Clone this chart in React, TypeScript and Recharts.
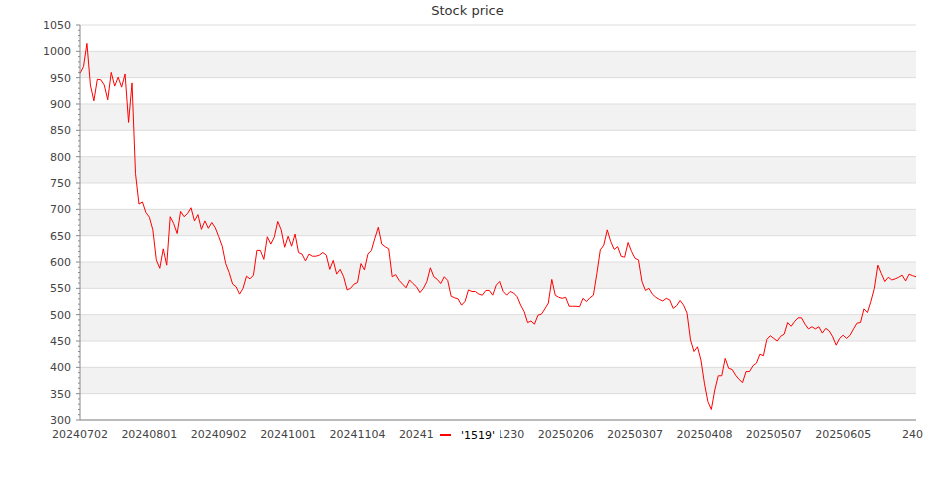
import React from "react";
import { LineChart, Line, XAxis, YAxis, CartesianGrid, Legend } from "recharts";

const chartTitle = "Stock price";
const seriesName = "'1519'";

// date labels shown every 20 trading days; the last tick has no date and shows its index
const dateLabels = [
  "20240702", "20240801", "20240902", "20241001", "20241104", "20241202",
  "20241230", "20250206", "20250307", "20250408", "20250507", "20250605",
];
const xTickIndexes = [0, 20, 40, 60, 80, 100, 120, 140, 160, 180, 200, 220, 240];

const yMajorTicks = [300, 350, 400, 450, 500, 550, 600, 650, 700, 750, 800, 850, 900, 950, 1000, 1050];

// closing prices
const prices = [
  958, 971, 1015, 936, 906, 947, 946, 936, 908, 960, 934, 951, 932, 957, 865, 940, 768, 710, 714, 694,
  685, 661, 604, 588, 625, 594, 686, 673, 654, 696, 686, 692, 703, 678, 690, 662, 678, 664, 675, 665,
  648, 630, 597, 580, 558, 553, 539, 550, 573,
  568, 575, 622, 622, 605, 648, 634, 647, 677, 661, 628, 649, 630, 653, 618, 615, 602, 615, 611, 611,
  613, 618, 613, 586, 603, 577, 586, 572, 547, 550, 558, 561, 597, 585, 615, 622, 645, 666, 634, 629,
  625, 572, 576, 565, 558, 551, 566, 559,
  553, 542, 550, 563, 589, 572, 567, 559, 572, 565, 535, 532, 530, 518, 525, 547, 544, 544, 539, 537,
  546, 546, 537, 556, 563, 544, 537, 544, 541, 534, 518, 506, 485, 488, 482, 499, 501, 511, 522, 567,
  537, 533, 531, 533, 516, 516, 516, 515,
  531, 525, 532, 537, 578, 623, 632, 661, 639, 624, 629, 611, 609, 637, 620, 607, 604, 563, 546, 550,
  539, 533, 529, 526, 531, 528, 512, 517, 527, 518, 503, 452, 430, 439, 414, 370, 335, 320, 357, 384,
  384, 417, 398, 396, 385, 377, 371, 392, 392,
  403, 408, 425, 422, 453, 460, 455, 450, 459, 463, 485, 478, 487, 494, 494, 482, 473, 477, 473, 477,
  465, 474, 469, 458, 442, 455, 461, 455, 461, 473, 484, 485, 511, 504, 525, 550, 594, 578, 563, 571,
  566, 568, 571, 575, 564, 577, 574, 572,
];

const data = prices.map((price, i) => ({ i, price }));

// minor ticks every 10 between the labelled ones
const yTicks: number[] = [];
for (let v = yMajorTicks[0]; v <= yMajorTicks[yMajorTicks.length - 1]; v += 10) yTicks.push(v);

const YTick = ({ x, y, payload }: any) => {
  const major = payload.value % 50 === 0;
  return (
    <g>
      <line x1={x + (major ? 5 : 7)} x2={x + 9} y1={y} y2={y} stroke="#888" />
      {major && (
        <text x={x} y={y} dy={4} textAnchor="end" fontSize={11} fill="#444">
          {payload.value}
        </text>
      )}
    </g>
  );
};

const LegendBox = () => (
  <div style={{ display: "flex", alignItems: "center", height: 20 }}>
    <span style={{ display: "inline-block", width: 11, height: 2, background: "#ff0000", marginLeft: 6, marginRight: 10 }} />
    <span style={{ fontSize: 11, color: "#000" }}>{seriesName}</span>
  </div>
);

export default function App() {
  return (
    <div style={{ position: "absolute", left: 0, top: 0, width: 935, height: 500, fontFamily: "DejaVu Sans", background: "#fff" }}>
      <div style={{ position: "absolute", left: 0, top: 3, width: 935, textAlign: "center", fontSize: 13, lineHeight: "16px", color: "#333" }}>
        {chartTitle}
      </div>
      <LineChart width={935} height={500} data={data} margin={{ top: 25, right: 19, bottom: 50, left: 20 }}>
        <CartesianGrid
          vertical={false}
          horizontalValues={yMajorTicks}
          stroke="#dddddd"
          horizontalFill={["#ffffff", "#f2f2f2"]}
          fillOpacity={1}
        />
        <XAxis
          type="number"
          dataKey="i"
          domain={[0, prices.length - 1]}
          ticks={xTickIndexes}
          interval={0}
          tickFormatter={(v: number) => dateLabels[v / 20] ?? String(v)}
          tickLine={false}
          tickMargin={4}
          axisLine={{ stroke: "#888" }}
          tick={{ fontSize: 11, fill: "#444" }}
        />
        <YAxis
          type="number"
          domain={[300, 1050]}
          ticks={yTicks}
          interval={0}
          width={60}
          tickSize={4}
          tickMargin={5}
          tickLine={false}
          axisLine={{ stroke: "#888" }}
          tick={<YTick />}
        />
        <Legend
          layout="horizontal"
          verticalAlign="middle"
          align="center"
          wrapperStyle={{ left: 434, top: 425, width: 66, height: 20, background: "#fff" }}
          content={() => <LegendBox />}
        />
        <Line
          type="linear"
          dataKey="price"
          name={seriesName}
          stroke="#ff0000"
          strokeWidth={1}
          dot={false}
          isAnimationActive={false}
        />
      </LineChart>
    </div>
  );
}
